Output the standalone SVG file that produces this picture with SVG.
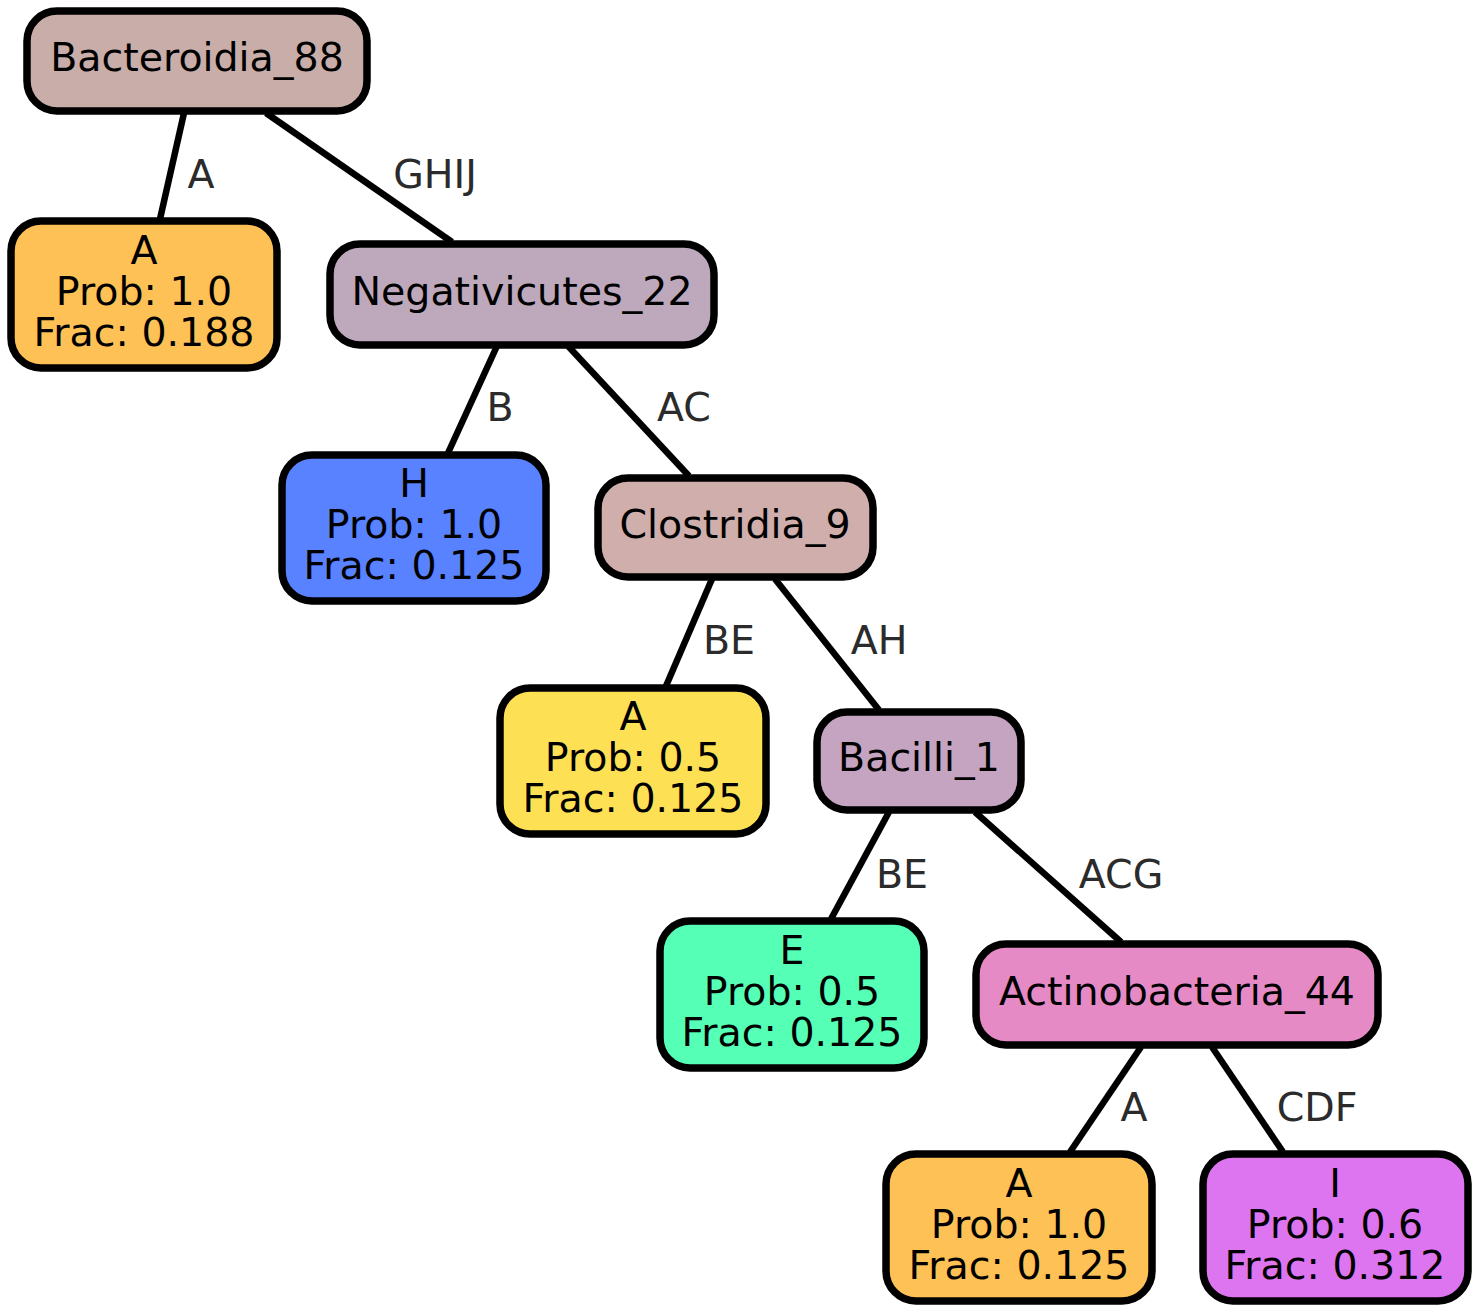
<svg xmlns="http://www.w3.org/2000/svg" width="1481" height="1313" viewBox="0 0 1481 1313">
<style>
.n{stroke:#000;stroke-width:7.5}
.t{font-family:"DejaVu Sans",sans-serif;font-size:39.5px;fill:#000;text-anchor:middle}
.e{stroke:#000;stroke-width:6.5;fill:none}
.l{font-family:"DejaVu Sans",sans-serif;font-size:39.5px;fill:#2b2b2b;text-anchor:middle}
</style>
<rect width="1481" height="1313" fill="#fff"/>
<g id="connectors">
<line class="e" x1="184" y1="113" x2="160" y2="219"/>
<text class="l" x="201" y="188">A</text>
<line class="e" x1="266" y1="113" x2="452" y2="242"/>
<text class="l" x="435" y="188">GHIJ</text>
<line class="e" x1="497" y1="346" x2="448" y2="453"/>
<text class="l" x="500" y="421">B</text>
<line class="e" x1="568" y1="346" x2="689" y2="476"/>
<text class="l" x="684" y="421">AC</text>
<line class="e" x1="712" y1="579" x2="666" y2="686"/>
<text class="l" x="729" y="654">BE</text>
<line class="e" x1="775" y1="579" x2="879" y2="710"/>
<text class="l" x="879" y="654">AH</text>
<line class="e" x1="889" y1="812" x2="831" y2="919"/>
<text class="l" x="902" y="888">BE</text>
<line class="e" x1="975" y1="812" x2="1121" y2="942"/>
<text class="l" x="1121" y="888">ACG</text>
<line class="e" x1="1141" y1="1047" x2="1070" y2="1152"/>
<text class="l" x="1134" y="1121">A</text>
<line class="e" x1="1212" y1="1047" x2="1283" y2="1152"/>
<text class="l" x="1317" y="1121">CDF</text>
</g>
<g id="bacteroidia_88">
<rect class="n" x="27" y="11" width="340" height="100" rx="30" fill="#C9ADA9"/>
<text class="t" x="197" y="71">Bacteroidia_88</text>
</g>
<g id="leaf_a1">
<rect class="n" x="11" y="221" width="266" height="147" rx="30" fill="#FEC155"/>
<text class="t" x="144" y="264">A</text>
<text class="t" x="144" y="305">Prob: 1.0</text>
<text class="t" x="144" y="346">Frac: 0.188</text>
</g>
<g id="negativicutes_22">
<rect class="n" x="330" y="244" width="384" height="101" rx="30" fill="#BDA8BC"/>
<text class="t" x="522" y="305">Negativicutes_22</text>
</g>
<g id="leaf_h">
<rect class="n" x="282" y="455" width="264" height="146" rx="30" fill="#5882FF"/>
<text class="t" x="414" y="497">H</text>
<text class="t" x="414" y="538">Prob: 1.0</text>
<text class="t" x="414" y="579">Frac: 0.125</text>
</g>
<g id="clostridia_9">
<rect class="n" x="598" y="478" width="275" height="99" rx="30" fill="#CFAEAB"/>
<text class="t" x="735" y="538">Clostridia_9</text>
</g>
<g id="leaf_a2">
<rect class="n" x="500" y="688" width="266" height="146" rx="30" fill="#FEE055"/>
<text class="t" x="633" y="730">A</text>
<text class="t" x="633" y="771">Prob: 0.5</text>
<text class="t" x="633" y="812">Frac: 0.125</text>
</g>
<g id="bacilli_1">
<rect class="n" x="817" y="712" width="204" height="98" rx="30" fill="#C4A4C0"/>
<text class="t" x="919" y="771">Bacilli_1</text>
</g>
<g id="leaf_e">
<rect class="n" x="660" y="921" width="264" height="147" rx="30" fill="#55FFB6"/>
<text class="t" x="792" y="964">E</text>
<text class="t" x="792" y="1005">Prob: 0.5</text>
<text class="t" x="792" y="1046">Frac: 0.125</text>
</g>
<g id="actinobacteria_44">
<rect class="n" x="976" y="944" width="402" height="101" rx="30" fill="#E68AC5"/>
<text class="t" x="1177" y="1005">Actinobacteria_44</text>
</g>
<g id="leaf_a3">
<rect class="n" x="886" y="1154" width="266" height="147" rx="30" fill="#FEC155"/>
<text class="t" x="1019" y="1197">A</text>
<text class="t" x="1019" y="1238">Prob: 1.0</text>
<text class="t" x="1019" y="1279">Frac: 0.125</text>
</g>
<g id="leaf_i">
<rect class="n" x="1203" y="1154" width="265" height="147" rx="30" fill="#DC75EF"/>
<text class="t" x="1335" y="1197">I</text>
<text class="t" x="1335" y="1238">Prob: 0.6</text>
<text class="t" x="1335" y="1279">Frac: 0.312</text>
</g>
</svg>
